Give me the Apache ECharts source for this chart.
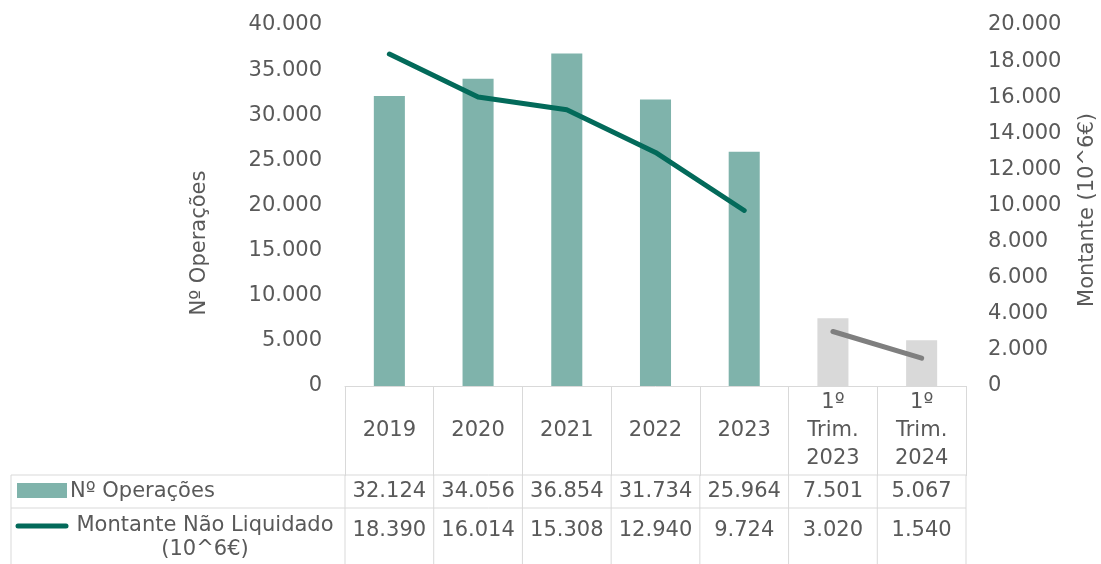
<!DOCTYPE html>
<html>
<head>
<meta charset="utf-8">
<script src="https://cdn.jsdelivr.net/npm/echarts@6/dist/echarts.min.js"></script>
<style>
  html, body { margin: 0; padding: 0; background: #fff; }
  #main { width: 1101px; height: 564px; }
</style>
</head>
<body>
<div id="main"></div>
<script>
// categorias (anos + trimestres)
const categories = ['2019', '2020', '2021', '2022', '2023', '1º\nTrim.\n2023', '1º\nTrim.\n2024'];
// Nº de operações
const operacoes = [32124, 34056, 36854, 31734, 25964, 7501, 5067];
// montante não liquidado (10^6€)
const montante = [18390, 16014, 15308, 12940, 9724, 3020, 1540];
// a partir deste índice os dados são trimestrais (cinzento)
const firstQuarter = 5;

const leftTicks = { min: 0, max: 40000, interval: 5000 };
const rightTicks = { min: 0, max: 20000, interval: 2000 };

const TEAL = '#7fb3ab';
const DARK = '#036a5a';
const GREY_BAR = '#d9d9d9';
const GREY_LINE = '#7f7f7f';
const TXT = '#595959';
const BORDER = '#d9d9d9';
const FONT = 'DejaVu Sans';
const FS = 21;

function fmt(v) {
  return String(v).replace(/\B(?=(\d{3})+(?!\d))/g, '.');
}

const el = document.getElementById('main');
const myChart = echarts.init(el);

const option = {
  animation: false,
  textStyle: { fontFamily: FONT, color: TXT },
  grid: { left: 345, right: 135, top: 25, bottom: 178 },
  xAxis: {
    type: 'category',
    data: categories,
    axisLine: { lineStyle: { color: BORDER, width: 1 } },
    axisTick: { show: true, length: 90, lineStyle: { color: BORDER } },
    axisLabel: {
      interval: 0, margin: 45, verticalAlign: 'middle',
      fontSize: FS, lineHeight: 28, color: TXT, fontFamily: FONT
    }
  },
  yAxis: [
    {
      type: 'value', min: leftTicks.min, max: leftTicks.max, interval: leftTicks.interval,
      splitLine: { show: false }, axisLine: { show: false }, axisTick: { show: false },
      axisLabel: { margin: 23, fontSize: FS, color: TXT, fontFamily: FONT, formatter: fmt }
    },
    {
      type: 'value', min: rightTicks.min, max: rightTicks.max, interval: rightTicks.interval,
      splitLine: { show: false }, axisLine: { show: false }, axisTick: { show: false },
      axisLabel: { margin: 22, fontSize: FS, color: TXT, fontFamily: FONT, formatter: fmt }
    }
  ],
  series: [
    {
      name: 'Nº Operações',
      type: 'bar',
      yAxisIndex: 0,
      barWidth: '35%',
      data: operacoes,
      itemStyle: { color: p => p.dataIndex >= firstQuarter ? GREY_BAR : TEAL }
    },
    {
      name: 'Montante Não Liquidado (10^6€)',
      type: 'line',
      yAxisIndex: 1,
      symbol: 'none',
      data: montante.map((v, i) => i < firstQuarter ? v : '-'),
      lineStyle: { color: DARK, width: 5, cap: 'round', join: 'round' }
    },
    {
      name: 'Montante trimestral',
      type: 'line',
      yAxisIndex: 1,
      symbol: 'none',
      data: montante.map((v, i) => i >= firstQuarter ? v : '-'),
      lineStyle: { color: GREY_LINE, width: 5, cap: 'round', join: 'round' }
    }
  ]
};
myChart.setOption(option);

// tabela de dados por baixo do eixo, alinhada com as categorias
const c0 = myChart.convertToPixel({ xAxisIndex: 0 }, 0);
const c1 = myChart.convertToPixel({ xAxisIndex: 0 }, 1);
const band = c1 - c0;
const xLeft = c0 - band / 2;
const xRight = xLeft + band * categories.length;
const yAxis0 = myChart.convertToPixel({ yAxisIndex: 0 }, 0);
const yHead = yAxis0 + 89;
const yRow = yHead + 33;
const yEnd = 570;
const tableLeft = 11;

const lineStyle = { stroke: BORDER, lineWidth: 1 };
const g = [];
function hline(x1, x2, y) {
  g.push({ type: 'line', silent: true, shape: { x1, y1: y, x2, y2: y }, style: lineStyle });
}
function vline(x, y1, y2) {
  g.push({ type: 'line', silent: true, shape: { x1: x, y1, x2: x, y2 }, style: lineStyle });
}
hline(tableLeft, xRight, yHead);
hline(tableLeft, xRight, yRow);
vline(tableLeft, yHead, yEnd);
for (let i = 0; i <= categories.length; i++) vline(xLeft + band * i, yHead, yEnd);

const txt = (text, x, y, align) => g.push({
  type: 'text', silent: true, x, y,
  style: { text, fill: TXT, font: FS + 'px "' + FONT + '"', align: align || 'center', verticalAlign: 'middle', lineHeight: 24 }
});

categories.forEach((c, i) => {
  const cx = myChart.convertToPixel({ xAxisIndex: 0 }, i);
  txt(fmt(operacoes[i]), cx, (yHead + yRow) / 2);
  txt(fmt(montante[i]), cx, yRow + 23);
});

// legenda dentro da tabela
g.push({ type: 'rect', silent: true, shape: { x: 17, y: yHead + 8, width: 50, height: 15 }, style: { fill: TEAL } });
txt('Nº Operações', 70, (yHead + yRow) / 2, 'left');
g.push({ type: 'line', silent: true, shape: { x1: 18, y1: yRow + 18, x2: 66, y2: yRow + 18 }, style: { stroke: DARK, lineWidth: 5, lineCap: 'round' } });
txt('Montante Não Liquidado\n(10^6€)', 205, yRow + 30);

// títulos dos eixos
g.push({
  type: 'text', silent: true, x: 200, y: 243, rotation: Math.PI / 2,
  style: { text: 'Nº Operações', fill: TXT, font: FS + 'px "' + FONT + '"', align: 'center', verticalAlign: 'middle' }
});
g.push({
  type: 'text', silent: true, x: 1088, y: 210, rotation: Math.PI / 2,
  style: { text: 'Montante (10^6€)', fill: TXT, font: FS + 'px "' + FONT + '"', align: 'center', verticalAlign: 'middle' }
});

myChart.setOption({ graphic: g });
</script>
</body>
</html>
